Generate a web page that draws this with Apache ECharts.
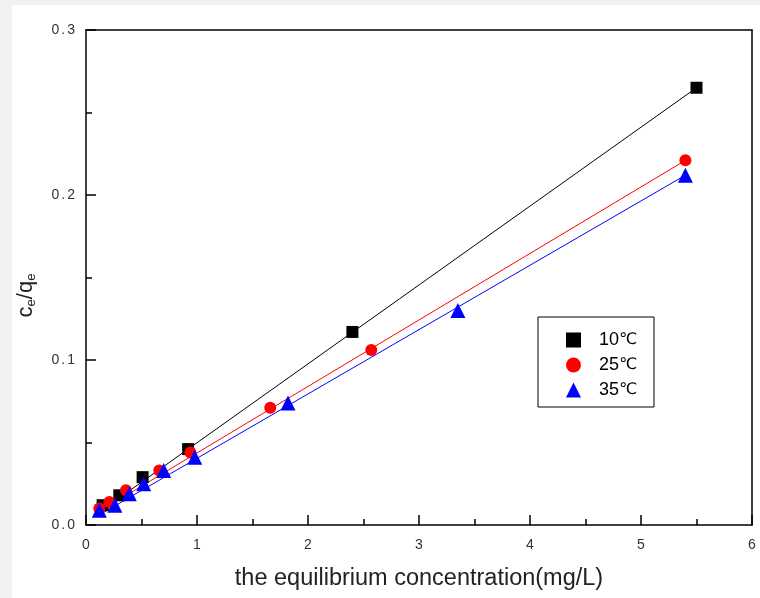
<!DOCTYPE html>
<html>
<head>
<meta charset="utf-8">
<script src="https://cdn.jsdelivr.net/npm/echarts@6/dist/echarts.min.js"></script>
<style>
html,body{margin:0;padding:0;background:#f2f2f2;}
#panel{position:absolute;left:12px;top:5px;width:748px;height:593px;background:#fff;}
#chart{position:absolute;left:0;top:0;width:760px;height:598px;}
</style>
</head>
<body>
<div id="panel"></div>
<div id="chart"></div>
<script>
// data
var seriesNames = ['10℃', '25℃', '35℃'];
var x10 = [0.15, 0.30, 0.51, 0.92, 2.40, 5.50];
var y10 = [0.012, 0.018, 0.029, 0.046, 0.117, 0.265];
var x25 = [0.12, 0.21, 0.36, 0.66, 0.94, 1.66, 2.57, 5.40];
var y25 = [0.010, 0.014, 0.021, 0.033, 0.044, 0.071, 0.106, 0.221];
var x35 = [0.12, 0.26, 0.39, 0.52, 0.70, 0.98, 1.82, 3.35, 5.40];
var y35 = [0.009, 0.012, 0.019, 0.025, 0.033, 0.041, 0.074, 0.130, 0.212];
// linear fit line endpoints
var fit10X = [0.15, 5.50], fit10Y = [0.0092, 0.265];
var fit25X = [0.12, 5.40], fit25Y = [0.0082, 0.221];
var fit35X = [0.12, 5.40], fit35Y = [0.0061, 0.212];
var xTicks = [0, 1, 2, 3, 4, 5, 6];
var yTicks = [0.0, 0.1, 0.2, 0.3];

function pairs(xs, ys) { return xs.map(function (v, i) { return [v, ys[i]]; }); }
function spaced(s) { return s.split('').map(function (c) { return '{c|' + c + '}'; }).join(''); }

var FONT = 'Liberation Sans, Arial, sans-serif';
var colors = ['#000000', '#ff0000', '#0000ff'];
var symbols = ['rect', 'circle', 'triangle'];
var symSizes = [12, 12, 15];
var pts = [pairs(x10, y10), pairs(x25, y25), pairs(x35, y35)];
var fits = [pairs(fit10X, fit10Y), pairs(fit25X, fit25Y), pairs(fit35X, fit35Y)];

var series = [];
for (var i = 0; i < 3; i++) {
  series.push({
    name: seriesNames[i] + ' fit', type: 'line', data: fits[i], symbol: 'none',
    lineStyle: { color: colors[i], width: 1 }, z: 2, silent: true, animation: false
  });
}
for (var j = 0; j < 3; j++) {
  series.push({
    name: seriesNames[j], type: 'scatter', data: pts[j], symbol: symbols[j],
    symbolSize: symSizes[j], itemStyle: { color: colors[j], opacity: 1 }, z: 3, animation: false
  });
}

var tickRich = { c: { fontFamily: FONT, fontSize: 14, color: '#333', padding: [0, 1] } };
var chart = echarts.init(document.getElementById('chart'), null, { renderer: 'canvas' });
chart.setOption({
  backgroundColor: 'transparent',
  animation: false,
  grid: { left: 86, right: 8, top: 30, bottom: 73, show: false },
  legend: {
    data: seriesNames.map(function (n, k) { return { name: n, icon: symbols[k] }; }),
    orient: 'vertical', left: 538, top: 317,
    borderColor: '#000', borderWidth: 1, borderRadius: 0,
    padding: [14, 17, 8, 28], itemGap: 7,
    itemWidth: 15, itemHeight: 15,
    formatter: function (name) { return '{n|' + name.replace('℃', '') + '}{u|℃}'; },
    textStyle: {
      fontFamily: FONT, fontSize: 18, color: '#000', padding: [0, 0, 0, 13],
      rich: {
        n: { fontFamily: FONT, fontSize: 18, color: '#000' },
        u: { fontFamily: 'DejaVu Sans, sans-serif', fontSize: 16, color: '#000' }
      }
    }
  },
  xAxis: [{
    type: 'value', min: 0, max: 6, interval: 1, position: 'bottom',
    name: 'the equilibrium concentration(mg/L)', nameLocation: 'middle', nameGap: 42,
    nameTextStyle: { fontFamily: FONT, fontSize: 23.5, color: '#222' },
    axisLine: { show: true, onZero: false, lineStyle: { color: '#000', width: 1.5 } },
    axisTick: { show: true, inside: true, length: 10, lineStyle: { color: '#000', width: 1.5 } },
    minorTick: { show: true, splitNumber: 2, length: 6, lineStyle: { color: '#000', width: 1.5 } },
    axisLabel: { margin: 13, fontSize: 14, fontFamily: FONT, color: '#333', rich: tickRich,
      formatter: function (v) { return xTicks.indexOf(v) >= 0 ? spaced(String(v)) : ''; } },
    splitLine: { show: false }
  }, {
    type: 'value', min: 0, max: 6, interval: 1, position: 'top',
    axisLine: { show: true, onZero: false, lineStyle: { color: '#000', width: 1.5 } },
    axisTick: { show: false }, axisLabel: { show: false }, splitLine: { show: false }
  }],
  yAxis: [{
    type: 'value', min: 0, max: 0.3, interval: 0.1, position: 'left',
    name: 'c{s|e}/q{s|e}', nameLocation: 'middle', nameGap: 48, nameRotate: 90,
    nameTextStyle: {
      fontFamily: FONT, fontSize: 22, color: '#222', padding: [0, 36, 0, 0],
      rich: { s: { fontFamily: FONT, fontSize: 13, color: '#222', padding: [12, 0, 0, 0] } }
    },
    axisLine: { show: true, onZero: false, lineStyle: { color: '#000', width: 1.5 } },
    axisTick: { show: true, inside: true, length: 10, lineStyle: { color: '#000', width: 1.5 } },
    minorTick: { show: true, splitNumber: 2, length: 6, lineStyle: { color: '#000', width: 1.5 } },
    axisLabel: { margin: 10, fontSize: 14, fontFamily: FONT, color: '#333', rich: tickRich,
      formatter: function (v) {
        for (var t = 0; t < yTicks.length; t++) { if (Math.abs(yTicks[t] - v) < 1e-9) return spaced(yTicks[t].toFixed(1)); }
        return '';
      } },
    splitLine: { show: false }
  }, {
    type: 'value', min: 0, max: 0.3, interval: 0.1, position: 'right',
    axisLine: { show: true, onZero: false, lineStyle: { color: '#000', width: 1.5 } },
    axisTick: { show: false }, axisLabel: { show: false }, splitLine: { show: false }
  }],
  series: series
});
</script>
</body>
</html>
